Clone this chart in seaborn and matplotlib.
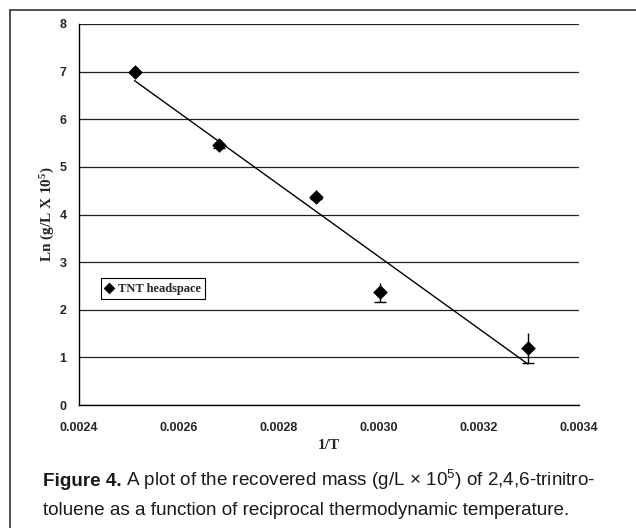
import numpy as np
import pandas as pd
import matplotlib
matplotlib.use("Agg")
import matplotlib.pyplot as plt
from matplotlib.lines import Line2D
from matplotlib.ticker import FormatStrFormatter
import seaborn as sns

# ---- data ----
inv_T = [0.002511, 0.002679, 0.002873, 0.003001, 0.003298]
ln_mass = [7.00, 5.45, 4.37, 2.37, 1.20]
ln_err = [0.03, 0.06, 0.05, 0.20, 0.32]
series_label = "TNT headspace"
x_ticks = [0.0024, 0.0026, 0.0028, 0.0030, 0.0032, 0.0034]
y_ticks = [0, 1, 2, 3, 4, 5, 6, 7, 8]

df = pd.DataFrame({"invT": inv_T, "ln": ln_mass, "err": ln_err})

sns.set_style("white")
plt.rcParams["font.family"] = ["Liberation Sans", "DejaVu Sans"]
plt.rcParams["mathtext.default"] = "regular"

W, H = 636, 528
fig = plt.figure(figsize=(W / 100, H / 100), dpi=100)
ax = fig.add_axes([79 / W, 1 - 405 / H, 500 / W, 381 / H])

# grid
ax.set_axisbelow(True)
ax.yaxis.grid(True, color="#222222", lw=0.9)
ax.xaxis.grid(False)

# regression line through the data
sns.regplot(data=df, x="invT", y="ln", scatter=False, ci=None, truncate=True,
            color="black", line_kws={"lw": 1.0}, ax=ax)

# error bars
eb = ax.errorbar(df["invT"], df["ln"], yerr=df["err"], fmt="none",
                 ecolor="black", elinewidth=1.0, capsize=4, capthick=1.0, zorder=3)
if len(eb[1]) > 1:
    eb[1][1].set_visible(False)

# points
sns.scatterplot(data=df, x="invT", y="ln", marker="D", s=48, color="black",
                edgecolor="black", linewidth=0.5, label=series_label, ax=ax, zorder=4)

ax.set_xlim(0.0024, 0.0034)
ax.set_ylim(0, 8)
ax.set_xticks(x_ticks)
ax.set_yticks(y_ticks)
ax.xaxis.set_major_formatter(FormatStrFormatter("%.4f"))
ax.tick_params(axis="both", direction="out", length=4, width=1, color="black",
               labelsize=9)
for lab in ax.get_xticklabels() + ax.get_yticklabels():
    lab.set_fontweight("bold")
    lab.set_family(["Liberation Sans", "DejaVu Sans"])
ax.tick_params(axis="y", pad=5)
ax.tick_params(axis="x", pad=8)

for s in ["top", "right"]:
    ax.spines[s].set_visible(False)
for s in ["left", "bottom"]:
    ax.spines[s].set_color("black")
    ax.spines[s].set_linewidth(1.0)

ax.set_xlabel("1/T", fontsize=11, fontweight="bold",
              family=["Liberation Serif", "DejaVu Serif"], labelpad=4)
ax.set_ylabel("Ln (g/L X 10$^5$)", fontsize=11, fontweight="bold",
              family=["Liberation Serif", "DejaVu Serif"], labelpad=2)

leg = ax.legend(loc="upper left", bbox_to_anchor=(0.044, 0.333), frameon=True,
                fancybox=False, edgecolor="black", framealpha=1,
                prop={"family": "Liberation Serif", "weight": "bold", "size": 9},
                handlelength=0.6, handletextpad=0.4, borderpad=0.35,
                borderaxespad=0)
leg.get_frame().set_linewidth(0.8)
for h in leg.legend_handles:
    h.set_sizes([30])

# outer frame (left and top edges)
fig.add_artist(Line2D([10 / W, 10 / W], [0, 1 - 10 / H], color="#333333", lw=1.2,
                      transform=fig.transFigure))
fig.add_artist(Line2D([10 / W, 1], [1 - 10 / H, 1 - 10 / H], color="#333333", lw=1.2,
                      transform=fig.transFigure))

# caption
cap_font = ["Liberation Sans", "DejaVu Sans"]
cap_size = 13.6
cap_color = "#1a1a1a"
t1 = fig.text(43 / W, 1 - 486 / H, "Figure 4.", fontsize=cap_size, fontweight="bold",
              family=cap_font, color=cap_color, va="baseline", ha="left")
renderer = fig.canvas.get_renderer()
bb = t1.get_window_extent(renderer=renderer)
fig.text(bb.x1 / W + 4 / W, 1 - 486 / H,
         "A plot of the recovered mass (g/L \u00d7 10$^5$) of 2,4,6-trinitro-",
         fontsize=cap_size, family=cap_font, color=cap_color, va="baseline", ha="left")
fig.text(43 / W, 1 - 515 / H,
         "toluene as a function of reciprocal thermodynamic temperature.",
         fontsize=cap_size, family=cap_font, color=cap_color, va="baseline", ha="left")

fig.savefig("out.png", dpi=100)
